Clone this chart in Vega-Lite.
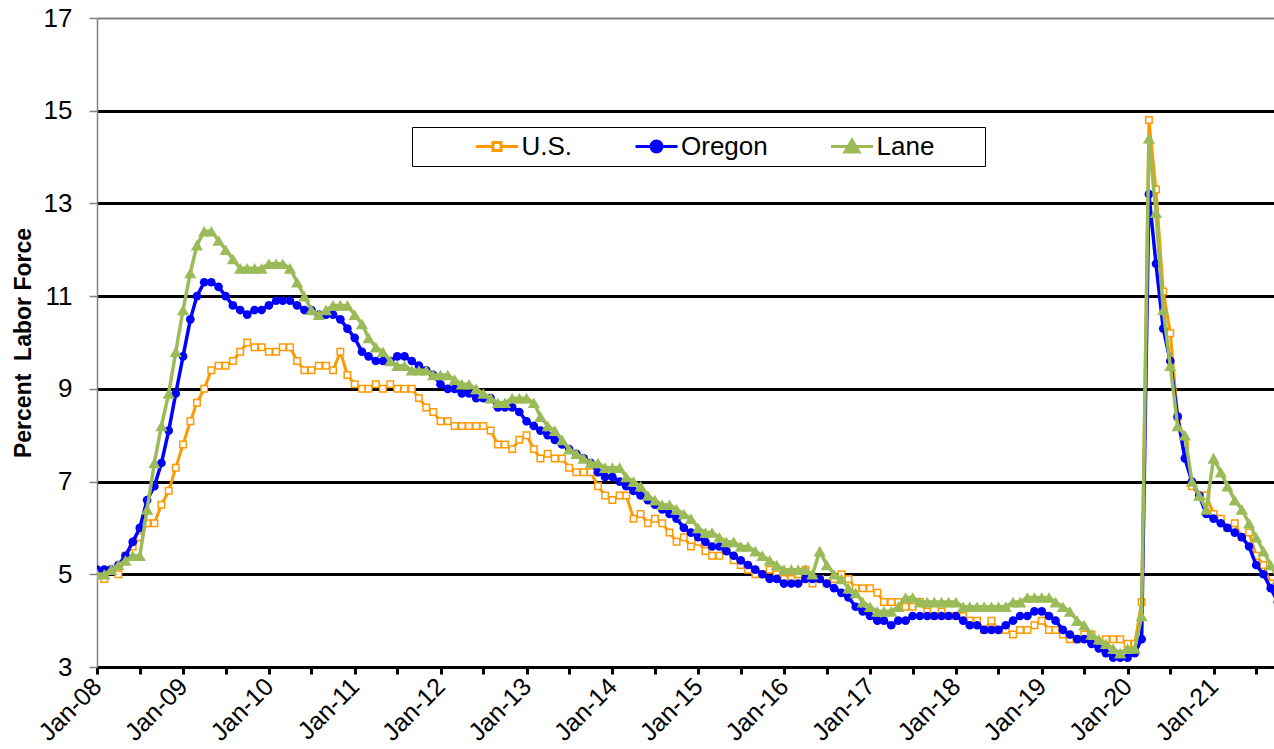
{
"$schema": "https://vega.github.io/schema/vega-lite/v6.json",
"width": 1177, "height": 649,
"autosize": {"type": "none"},
"padding": {"left": 97, "top": 18, "right": 0, "bottom": 82},
"background": "white",
"config": {"view": {"stroke": null}, "font": "Liberation Sans"},
"data": {"values": [
{"m":"2008-01","s":"U.S.","v":5.0},{"m":"2008-02","s":"U.S.","v":4.9},{"m":"2008-03","s":"U.S.","v":5.1},{"m":"2008-04","s":"U.S.","v":5.0},{"m":"2008-05","s":"U.S.","v":5.4},{"m":"2008-06","s":"U.S.","v":5.6},{"m":"2008-07","s":"U.S.","v":5.8},{"m":"2008-08","s":"U.S.","v":6.1},{"m":"2008-09","s":"U.S.","v":6.1},{"m":"2008-10","s":"U.S.","v":6.5},{"m":"2008-11","s":"U.S.","v":6.8},{"m":"2008-12","s":"U.S.","v":7.3},
{"m":"2009-01","s":"U.S.","v":7.8},{"m":"2009-02","s":"U.S.","v":8.3},{"m":"2009-03","s":"U.S.","v":8.7},{"m":"2009-04","s":"U.S.","v":9.0},{"m":"2009-05","s":"U.S.","v":9.4},{"m":"2009-06","s":"U.S.","v":9.5},{"m":"2009-07","s":"U.S.","v":9.5},{"m":"2009-08","s":"U.S.","v":9.6},{"m":"2009-09","s":"U.S.","v":9.8},{"m":"2009-10","s":"U.S.","v":10.0},{"m":"2009-11","s":"U.S.","v":9.9},{"m":"2009-12","s":"U.S.","v":9.9},
{"m":"2010-01","s":"U.S.","v":9.8},{"m":"2010-02","s":"U.S.","v":9.8},{"m":"2010-03","s":"U.S.","v":9.9},{"m":"2010-04","s":"U.S.","v":9.9},{"m":"2010-05","s":"U.S.","v":9.6},{"m":"2010-06","s":"U.S.","v":9.4},{"m":"2010-07","s":"U.S.","v":9.4},{"m":"2010-08","s":"U.S.","v":9.5},{"m":"2010-09","s":"U.S.","v":9.5},{"m":"2010-10","s":"U.S.","v":9.4},{"m":"2010-11","s":"U.S.","v":9.8},{"m":"2010-12","s":"U.S.","v":9.3},
{"m":"2011-01","s":"U.S.","v":9.1},{"m":"2011-02","s":"U.S.","v":9.0},{"m":"2011-03","s":"U.S.","v":9.0},{"m":"2011-04","s":"U.S.","v":9.1},{"m":"2011-05","s":"U.S.","v":9.0},{"m":"2011-06","s":"U.S.","v":9.1},{"m":"2011-07","s":"U.S.","v":9.0},{"m":"2011-08","s":"U.S.","v":9.0},{"m":"2011-09","s":"U.S.","v":9.0},{"m":"2011-10","s":"U.S.","v":8.8},{"m":"2011-11","s":"U.S.","v":8.6},{"m":"2011-12","s":"U.S.","v":8.5},
{"m":"2012-01","s":"U.S.","v":8.3},{"m":"2012-02","s":"U.S.","v":8.3},{"m":"2012-03","s":"U.S.","v":8.2},{"m":"2012-04","s":"U.S.","v":8.2},{"m":"2012-05","s":"U.S.","v":8.2},{"m":"2012-06","s":"U.S.","v":8.2},{"m":"2012-07","s":"U.S.","v":8.2},{"m":"2012-08","s":"U.S.","v":8.1},{"m":"2012-09","s":"U.S.","v":7.8},{"m":"2012-10","s":"U.S.","v":7.8},{"m":"2012-11","s":"U.S.","v":7.7},{"m":"2012-12","s":"U.S.","v":7.9},
{"m":"2013-01","s":"U.S.","v":8.0},{"m":"2013-02","s":"U.S.","v":7.7},{"m":"2013-03","s":"U.S.","v":7.5},{"m":"2013-04","s":"U.S.","v":7.6},{"m":"2013-05","s":"U.S.","v":7.5},{"m":"2013-06","s":"U.S.","v":7.5},{"m":"2013-07","s":"U.S.","v":7.3},{"m":"2013-08","s":"U.S.","v":7.2},{"m":"2013-09","s":"U.S.","v":7.2},{"m":"2013-10","s":"U.S.","v":7.2},{"m":"2013-11","s":"U.S.","v":6.9},{"m":"2013-12","s":"U.S.","v":6.7},
{"m":"2014-01","s":"U.S.","v":6.6},{"m":"2014-02","s":"U.S.","v":6.7},{"m":"2014-03","s":"U.S.","v":6.7},{"m":"2014-04","s":"U.S.","v":6.2},{"m":"2014-05","s":"U.S.","v":6.3},{"m":"2014-06","s":"U.S.","v":6.1},{"m":"2014-07","s":"U.S.","v":6.2},{"m":"2014-08","s":"U.S.","v":6.1},{"m":"2014-09","s":"U.S.","v":5.9},{"m":"2014-10","s":"U.S.","v":5.7},{"m":"2014-11","s":"U.S.","v":5.8},{"m":"2014-12","s":"U.S.","v":5.6},
{"m":"2015-01","s":"U.S.","v":5.7},{"m":"2015-02","s":"U.S.","v":5.5},{"m":"2015-03","s":"U.S.","v":5.4},{"m":"2015-04","s":"U.S.","v":5.4},{"m":"2015-05","s":"U.S.","v":5.6},{"m":"2015-06","s":"U.S.","v":5.3},{"m":"2015-07","s":"U.S.","v":5.2},{"m":"2015-08","s":"U.S.","v":5.1},{"m":"2015-09","s":"U.S.","v":5.0},{"m":"2015-10","s":"U.S.","v":5.0},{"m":"2015-11","s":"U.S.","v":5.1},{"m":"2015-12","s":"U.S.","v":5.0},
{"m":"2016-01","s":"U.S.","v":4.9},{"m":"2016-02","s":"U.S.","v":4.9},{"m":"2016-03","s":"U.S.","v":5.0},{"m":"2016-04","s":"U.S.","v":5.1},{"m":"2016-05","s":"U.S.","v":4.8},{"m":"2016-06","s":"U.S.","v":4.9},{"m":"2016-07","s":"U.S.","v":4.8},{"m":"2016-08","s":"U.S.","v":4.9},{"m":"2016-09","s":"U.S.","v":5.0},{"m":"2016-10","s":"U.S.","v":4.9},{"m":"2016-11","s":"U.S.","v":4.7},{"m":"2016-12","s":"U.S.","v":4.7},
{"m":"2017-01","s":"U.S.","v":4.7},{"m":"2017-02","s":"U.S.","v":4.6},{"m":"2017-03","s":"U.S.","v":4.4},{"m":"2017-04","s":"U.S.","v":4.4},{"m":"2017-05","s":"U.S.","v":4.4},{"m":"2017-06","s":"U.S.","v":4.3},{"m":"2017-07","s":"U.S.","v":4.3},{"m":"2017-08","s":"U.S.","v":4.4},{"m":"2017-09","s":"U.S.","v":4.2},{"m":"2017-10","s":"U.S.","v":4.1},{"m":"2017-11","s":"U.S.","v":4.2},{"m":"2017-12","s":"U.S.","v":4.1},
{"m":"2018-01","s":"U.S.","v":4.1},{"m":"2018-02","s":"U.S.","v":4.1},{"m":"2018-03","s":"U.S.","v":4.0},{"m":"2018-04","s":"U.S.","v":4.0},{"m":"2018-05","s":"U.S.","v":3.8},{"m":"2018-06","s":"U.S.","v":4.0},{"m":"2018-07","s":"U.S.","v":3.8},{"m":"2018-08","s":"U.S.","v":3.8},{"m":"2018-09","s":"U.S.","v":3.7},{"m":"2018-10","s":"U.S.","v":3.8},{"m":"2018-11","s":"U.S.","v":3.8},{"m":"2018-12","s":"U.S.","v":3.9},
{"m":"2019-01","s":"U.S.","v":4.0},{"m":"2019-02","s":"U.S.","v":3.8},{"m":"2019-03","s":"U.S.","v":3.8},{"m":"2019-04","s":"U.S.","v":3.7},{"m":"2019-05","s":"U.S.","v":3.6},{"m":"2019-06","s":"U.S.","v":3.6},{"m":"2019-07","s":"U.S.","v":3.7},{"m":"2019-08","s":"U.S.","v":3.7},{"m":"2019-09","s":"U.S.","v":3.5},{"m":"2019-10","s":"U.S.","v":3.6},{"m":"2019-11","s":"U.S.","v":3.6},{"m":"2019-12","s":"U.S.","v":3.6},
{"m":"2020-01","s":"U.S.","v":3.5},{"m":"2020-02","s":"U.S.","v":3.5},{"m":"2020-03","s":"U.S.","v":4.4},{"m":"2020-04","s":"U.S.","v":14.8},{"m":"2020-05","s":"U.S.","v":13.3},{"m":"2020-06","s":"U.S.","v":11.1},{"m":"2020-07","s":"U.S.","v":10.2},{"m":"2020-08","s":"U.S.","v":8.4},{"m":"2020-09","s":"U.S.","v":7.8},{"m":"2020-10","s":"U.S.","v":6.9},{"m":"2020-11","s":"U.S.","v":6.7},{"m":"2020-12","s":"U.S.","v":6.7},
{"m":"2021-01","s":"U.S.","v":6.3},{"m":"2021-02","s":"U.S.","v":6.2},{"m":"2021-03","s":"U.S.","v":6.0},{"m":"2021-04","s":"U.S.","v":6.1},{"m":"2021-05","s":"U.S.","v":5.8},{"m":"2021-06","s":"U.S.","v":5.9},{"m":"2021-07","s":"U.S.","v":5.4},{"m":"2021-08","s":"U.S.","v":5.2},{"m":"2021-09","s":"U.S.","v":4.8},{"m":"2021-10","s":"U.S.","v":4.6},
{"m":"2008-01","s":"Oregon","v":5.1},{"m":"2008-02","s":"Oregon","v":5.1},{"m":"2008-03","s":"Oregon","v":5.1},{"m":"2008-04","s":"Oregon","v":5.2},{"m":"2008-05","s":"Oregon","v":5.4},{"m":"2008-06","s":"Oregon","v":5.7},{"m":"2008-07","s":"Oregon","v":6.0},{"m":"2008-08","s":"Oregon","v":6.6},{"m":"2008-09","s":"Oregon","v":6.9},{"m":"2008-10","s":"Oregon","v":7.4},{"m":"2008-11","s":"Oregon","v":8.1},{"m":"2008-12","s":"Oregon","v":8.9},
{"m":"2009-01","s":"Oregon","v":9.7},{"m":"2009-02","s":"Oregon","v":10.5},{"m":"2009-03","s":"Oregon","v":11.0},{"m":"2009-04","s":"Oregon","v":11.3},{"m":"2009-05","s":"Oregon","v":11.3},{"m":"2009-06","s":"Oregon","v":11.2},{"m":"2009-07","s":"Oregon","v":11.0},{"m":"2009-08","s":"Oregon","v":10.8},{"m":"2009-09","s":"Oregon","v":10.7},{"m":"2009-10","s":"Oregon","v":10.6},{"m":"2009-11","s":"Oregon","v":10.7},{"m":"2009-12","s":"Oregon","v":10.7},
{"m":"2010-01","s":"Oregon","v":10.8},{"m":"2010-02","s":"Oregon","v":10.9},{"m":"2010-03","s":"Oregon","v":10.9},{"m":"2010-04","s":"Oregon","v":10.9},{"m":"2010-05","s":"Oregon","v":10.8},{"m":"2010-06","s":"Oregon","v":10.7},{"m":"2010-07","s":"Oregon","v":10.7},{"m":"2010-08","s":"Oregon","v":10.6},{"m":"2010-09","s":"Oregon","v":10.6},{"m":"2010-10","s":"Oregon","v":10.6},{"m":"2010-11","s":"Oregon","v":10.5},{"m":"2010-12","s":"Oregon","v":10.3},
{"m":"2011-01","s":"Oregon","v":10.1},{"m":"2011-02","s":"Oregon","v":9.8},{"m":"2011-03","s":"Oregon","v":9.7},{"m":"2011-04","s":"Oregon","v":9.6},{"m":"2011-05","s":"Oregon","v":9.6},{"m":"2011-06","s":"Oregon","v":9.6},{"m":"2011-07","s":"Oregon","v":9.7},{"m":"2011-08","s":"Oregon","v":9.7},{"m":"2011-09","s":"Oregon","v":9.6},{"m":"2011-10","s":"Oregon","v":9.5},{"m":"2011-11","s":"Oregon","v":9.4},{"m":"2011-12","s":"Oregon","v":9.3},
{"m":"2012-01","s":"Oregon","v":9.1},{"m":"2012-02","s":"Oregon","v":9.0},{"m":"2012-03","s":"Oregon","v":9.0},{"m":"2012-04","s":"Oregon","v":8.9},{"m":"2012-05","s":"Oregon","v":8.9},{"m":"2012-06","s":"Oregon","v":8.8},{"m":"2012-07","s":"Oregon","v":8.8},{"m":"2012-08","s":"Oregon","v":8.8},{"m":"2012-09","s":"Oregon","v":8.6},{"m":"2012-10","s":"Oregon","v":8.6},{"m":"2012-11","s":"Oregon","v":8.6},{"m":"2012-12","s":"Oregon","v":8.5},
{"m":"2013-01","s":"Oregon","v":8.3},{"m":"2013-02","s":"Oregon","v":8.2},{"m":"2013-03","s":"Oregon","v":8.1},{"m":"2013-04","s":"Oregon","v":8.0},{"m":"2013-05","s":"Oregon","v":7.9},{"m":"2013-06","s":"Oregon","v":7.8},{"m":"2013-07","s":"Oregon","v":7.7},{"m":"2013-08","s":"Oregon","v":7.6},{"m":"2013-09","s":"Oregon","v":7.5},{"m":"2013-10","s":"Oregon","v":7.4},{"m":"2013-11","s":"Oregon","v":7.2},{"m":"2013-12","s":"Oregon","v":7.1},
{"m":"2014-01","s":"Oregon","v":7.1},{"m":"2014-02","s":"Oregon","v":7.0},{"m":"2014-03","s":"Oregon","v":6.9},{"m":"2014-04","s":"Oregon","v":6.8},{"m":"2014-05","s":"Oregon","v":6.7},{"m":"2014-06","s":"Oregon","v":6.6},{"m":"2014-07","s":"Oregon","v":6.5},{"m":"2014-08","s":"Oregon","v":6.4},{"m":"2014-09","s":"Oregon","v":6.3},{"m":"2014-10","s":"Oregon","v":6.2},{"m":"2014-11","s":"Oregon","v":6.0},{"m":"2014-12","s":"Oregon","v":5.9},
{"m":"2015-01","s":"Oregon","v":5.8},{"m":"2015-02","s":"Oregon","v":5.7},{"m":"2015-03","s":"Oregon","v":5.6},{"m":"2015-04","s":"Oregon","v":5.6},{"m":"2015-05","s":"Oregon","v":5.5},{"m":"2015-06","s":"Oregon","v":5.4},{"m":"2015-07","s":"Oregon","v":5.3},{"m":"2015-08","s":"Oregon","v":5.2},{"m":"2015-09","s":"Oregon","v":5.1},{"m":"2015-10","s":"Oregon","v":5.0},{"m":"2015-11","s":"Oregon","v":4.9},{"m":"2015-12","s":"Oregon","v":4.9},
{"m":"2016-01","s":"Oregon","v":4.8},{"m":"2016-02","s":"Oregon","v":4.8},{"m":"2016-03","s":"Oregon","v":4.8},{"m":"2016-04","s":"Oregon","v":4.9},{"m":"2016-05","s":"Oregon","v":4.9},{"m":"2016-06","s":"Oregon","v":4.9},{"m":"2016-07","s":"Oregon","v":4.8},{"m":"2016-08","s":"Oregon","v":4.7},{"m":"2016-09","s":"Oregon","v":4.6},{"m":"2016-10","s":"Oregon","v":4.5},{"m":"2016-11","s":"Oregon","v":4.3},{"m":"2016-12","s":"Oregon","v":4.2},
{"m":"2017-01","s":"Oregon","v":4.1},{"m":"2017-02","s":"Oregon","v":4.0},{"m":"2017-03","s":"Oregon","v":4.0},{"m":"2017-04","s":"Oregon","v":3.9},{"m":"2017-05","s":"Oregon","v":4.0},{"m":"2017-06","s":"Oregon","v":4.0},{"m":"2017-07","s":"Oregon","v":4.1},{"m":"2017-08","s":"Oregon","v":4.1},{"m":"2017-09","s":"Oregon","v":4.1},{"m":"2017-10","s":"Oregon","v":4.1},{"m":"2017-11","s":"Oregon","v":4.1},{"m":"2017-12","s":"Oregon","v":4.1},
{"m":"2018-01","s":"Oregon","v":4.1},{"m":"2018-02","s":"Oregon","v":4.0},{"m":"2018-03","s":"Oregon","v":3.9},{"m":"2018-04","s":"Oregon","v":3.9},{"m":"2018-05","s":"Oregon","v":3.8},{"m":"2018-06","s":"Oregon","v":3.8},{"m":"2018-07","s":"Oregon","v":3.8},{"m":"2018-08","s":"Oregon","v":3.9},{"m":"2018-09","s":"Oregon","v":4.0},{"m":"2018-10","s":"Oregon","v":4.1},{"m":"2018-11","s":"Oregon","v":4.1},{"m":"2018-12","s":"Oregon","v":4.2},
{"m":"2019-01","s":"Oregon","v":4.2},{"m":"2019-02","s":"Oregon","v":4.1},{"m":"2019-03","s":"Oregon","v":4.0},{"m":"2019-04","s":"Oregon","v":3.8},{"m":"2019-05","s":"Oregon","v":3.7},{"m":"2019-06","s":"Oregon","v":3.6},{"m":"2019-07","s":"Oregon","v":3.6},{"m":"2019-08","s":"Oregon","v":3.5},{"m":"2019-09","s":"Oregon","v":3.4},{"m":"2019-10","s":"Oregon","v":3.3},{"m":"2019-11","s":"Oregon","v":3.2},{"m":"2019-12","s":"Oregon","v":3.2},
{"m":"2020-01","s":"Oregon","v":3.2},{"m":"2020-02","s":"Oregon","v":3.3},{"m":"2020-03","s":"Oregon","v":3.6},{"m":"2020-04","s":"Oregon","v":13.2},{"m":"2020-05","s":"Oregon","v":11.7},{"m":"2020-06","s":"Oregon","v":10.3},{"m":"2020-07","s":"Oregon","v":9.6},{"m":"2020-08","s":"Oregon","v":8.4},{"m":"2020-09","s":"Oregon","v":7.5},{"m":"2020-10","s":"Oregon","v":7.0},{"m":"2020-11","s":"Oregon","v":6.7},{"m":"2020-12","s":"Oregon","v":6.3},
{"m":"2021-01","s":"Oregon","v":6.2},{"m":"2021-02","s":"Oregon","v":6.1},{"m":"2021-03","s":"Oregon","v":6.0},{"m":"2021-04","s":"Oregon","v":5.9},{"m":"2021-05","s":"Oregon","v":5.8},{"m":"2021-06","s":"Oregon","v":5.6},{"m":"2021-07","s":"Oregon","v":5.2},{"m":"2021-08","s":"Oregon","v":5.0},{"m":"2021-09","s":"Oregon","v":4.7},{"m":"2021-10","s":"Oregon","v":4.4},
{"m":"2008-01","s":"Lane","v":5.0},{"m":"2008-02","s":"Lane","v":5.0},{"m":"2008-03","s":"Lane","v":5.1},{"m":"2008-04","s":"Lane","v":5.2},{"m":"2008-05","s":"Lane","v":5.3},{"m":"2008-06","s":"Lane","v":5.4},{"m":"2008-07","s":"Lane","v":5.4},{"m":"2008-08","s":"Lane","v":6.4},{"m":"2008-09","s":"Lane","v":7.4},{"m":"2008-10","s":"Lane","v":8.2},{"m":"2008-11","s":"Lane","v":8.9},{"m":"2008-12","s":"Lane","v":9.8},
{"m":"2009-01","s":"Lane","v":10.7},{"m":"2009-02","s":"Lane","v":11.5},{"m":"2009-03","s":"Lane","v":12.1},{"m":"2009-04","s":"Lane","v":12.4},{"m":"2009-05","s":"Lane","v":12.4},{"m":"2009-06","s":"Lane","v":12.2},{"m":"2009-07","s":"Lane","v":12.0},{"m":"2009-08","s":"Lane","v":11.8},{"m":"2009-09","s":"Lane","v":11.6},{"m":"2009-10","s":"Lane","v":11.6},{"m":"2009-11","s":"Lane","v":11.6},{"m":"2009-12","s":"Lane","v":11.6},
{"m":"2010-01","s":"Lane","v":11.7},{"m":"2010-02","s":"Lane","v":11.7},{"m":"2010-03","s":"Lane","v":11.7},{"m":"2010-04","s":"Lane","v":11.6},{"m":"2010-05","s":"Lane","v":11.3},{"m":"2010-06","s":"Lane","v":11.0},{"m":"2010-07","s":"Lane","v":10.7},{"m":"2010-08","s":"Lane","v":10.6},{"m":"2010-09","s":"Lane","v":10.7},{"m":"2010-10","s":"Lane","v":10.8},{"m":"2010-11","s":"Lane","v":10.8},{"m":"2010-12","s":"Lane","v":10.8},
{"m":"2011-01","s":"Lane","v":10.6},{"m":"2011-02","s":"Lane","v":10.4},{"m":"2011-03","s":"Lane","v":10.1},{"m":"2011-04","s":"Lane","v":9.9},{"m":"2011-05","s":"Lane","v":9.8},{"m":"2011-06","s":"Lane","v":9.6},{"m":"2011-07","s":"Lane","v":9.5},{"m":"2011-08","s":"Lane","v":9.5},{"m":"2011-09","s":"Lane","v":9.4},{"m":"2011-10","s":"Lane","v":9.4},{"m":"2011-11","s":"Lane","v":9.4},{"m":"2011-12","s":"Lane","v":9.3},
{"m":"2012-01","s":"Lane","v":9.3},{"m":"2012-02","s":"Lane","v":9.3},{"m":"2012-03","s":"Lane","v":9.2},{"m":"2012-04","s":"Lane","v":9.1},{"m":"2012-05","s":"Lane","v":9.1},{"m":"2012-06","s":"Lane","v":9.0},{"m":"2012-07","s":"Lane","v":8.9},{"m":"2012-08","s":"Lane","v":8.8},{"m":"2012-09","s":"Lane","v":8.7},{"m":"2012-10","s":"Lane","v":8.7},{"m":"2012-11","s":"Lane","v":8.8},{"m":"2012-12","s":"Lane","v":8.8},
{"m":"2013-01","s":"Lane","v":8.8},{"m":"2013-02","s":"Lane","v":8.7},{"m":"2013-03","s":"Lane","v":8.4},{"m":"2013-04","s":"Lane","v":8.2},{"m":"2013-05","s":"Lane","v":8.1},{"m":"2013-06","s":"Lane","v":7.9},{"m":"2013-07","s":"Lane","v":7.7},{"m":"2013-08","s":"Lane","v":7.6},{"m":"2013-09","s":"Lane","v":7.5},{"m":"2013-10","s":"Lane","v":7.4},{"m":"2013-11","s":"Lane","v":7.4},{"m":"2013-12","s":"Lane","v":7.3},
{"m":"2014-01","s":"Lane","v":7.3},{"m":"2014-02","s":"Lane","v":7.3},{"m":"2014-03","s":"Lane","v":7.1},{"m":"2014-04","s":"Lane","v":7.0},{"m":"2014-05","s":"Lane","v":6.9},{"m":"2014-06","s":"Lane","v":6.7},{"m":"2014-07","s":"Lane","v":6.6},{"m":"2014-08","s":"Lane","v":6.5},{"m":"2014-09","s":"Lane","v":6.5},{"m":"2014-10","s":"Lane","v":6.4},{"m":"2014-11","s":"Lane","v":6.3},{"m":"2014-12","s":"Lane","v":6.2},
{"m":"2015-01","s":"Lane","v":6.0},{"m":"2015-02","s":"Lane","v":5.9},{"m":"2015-03","s":"Lane","v":5.9},{"m":"2015-04","s":"Lane","v":5.8},{"m":"2015-05","s":"Lane","v":5.7},{"m":"2015-06","s":"Lane","v":5.7},{"m":"2015-07","s":"Lane","v":5.6},{"m":"2015-08","s":"Lane","v":5.6},{"m":"2015-09","s":"Lane","v":5.5},{"m":"2015-10","s":"Lane","v":5.4},{"m":"2015-11","s":"Lane","v":5.3},{"m":"2015-12","s":"Lane","v":5.2},
{"m":"2016-01","s":"Lane","v":5.1},{"m":"2016-02","s":"Lane","v":5.1},{"m":"2016-03","s":"Lane","v":5.1},{"m":"2016-04","s":"Lane","v":5.1},{"m":"2016-05","s":"Lane","v":5.0},{"m":"2016-06","s":"Lane","v":5.5},{"m":"2016-07","s":"Lane","v":5.2},{"m":"2016-08","s":"Lane","v":5.0},{"m":"2016-09","s":"Lane","v":4.9},{"m":"2016-10","s":"Lane","v":4.7},{"m":"2016-11","s":"Lane","v":4.6},{"m":"2016-12","s":"Lane","v":4.4},
{"m":"2017-01","s":"Lane","v":4.3},{"m":"2017-02","s":"Lane","v":4.2},{"m":"2017-03","s":"Lane","v":4.2},{"m":"2017-04","s":"Lane","v":4.2},{"m":"2017-05","s":"Lane","v":4.3},{"m":"2017-06","s":"Lane","v":4.5},{"m":"2017-07","s":"Lane","v":4.5},{"m":"2017-08","s":"Lane","v":4.4},{"m":"2017-09","s":"Lane","v":4.4},{"m":"2017-10","s":"Lane","v":4.4},{"m":"2017-11","s":"Lane","v":4.4},{"m":"2017-12","s":"Lane","v":4.4},
{"m":"2018-01","s":"Lane","v":4.4},{"m":"2018-02","s":"Lane","v":4.3},{"m":"2018-03","s":"Lane","v":4.3},{"m":"2018-04","s":"Lane","v":4.3},{"m":"2018-05","s":"Lane","v":4.3},{"m":"2018-06","s":"Lane","v":4.3},{"m":"2018-07","s":"Lane","v":4.3},{"m":"2018-08","s":"Lane","v":4.3},{"m":"2018-09","s":"Lane","v":4.4},{"m":"2018-10","s":"Lane","v":4.4},{"m":"2018-11","s":"Lane","v":4.5},{"m":"2018-12","s":"Lane","v":4.5},
{"m":"2019-01","s":"Lane","v":4.5},{"m":"2019-02","s":"Lane","v":4.5},{"m":"2019-03","s":"Lane","v":4.4},{"m":"2019-04","s":"Lane","v":4.3},{"m":"2019-05","s":"Lane","v":4.2},{"m":"2019-06","s":"Lane","v":4.0},{"m":"2019-07","s":"Lane","v":3.9},{"m":"2019-08","s":"Lane","v":3.7},{"m":"2019-09","s":"Lane","v":3.6},{"m":"2019-10","s":"Lane","v":3.5},{"m":"2019-11","s":"Lane","v":3.4},{"m":"2019-12","s":"Lane","v":3.3},
{"m":"2020-01","s":"Lane","v":3.4},{"m":"2020-02","s":"Lane","v":3.4},{"m":"2020-03","s":"Lane","v":4.1},{"m":"2020-04","s":"Lane","v":14.4},{"m":"2020-05","s":"Lane","v":12.8},{"m":"2020-06","s":"Lane","v":10.7},{"m":"2020-07","s":"Lane","v":9.5},{"m":"2020-08","s":"Lane","v":8.2},{"m":"2020-09","s":"Lane","v":8.0},{"m":"2020-10","s":"Lane","v":7.0},{"m":"2020-11","s":"Lane","v":6.7},{"m":"2020-12","s":"Lane","v":6.4},
{"m":"2021-01","s":"Lane","v":7.5},{"m":"2021-02","s":"Lane","v":7.2},{"m":"2021-03","s":"Lane","v":6.9},{"m":"2021-04","s":"Lane","v":6.6},{"m":"2021-05","s":"Lane","v":6.4},{"m":"2021-06","s":"Lane","v":6.1},{"m":"2021-07","s":"Lane","v":5.8},{"m":"2021-08","s":"Lane","v":5.5},{"m":"2021-09","s":"Lane","v":5.2},{"m":"2021-10","s":"Lane","v":4.9}
]},
"encoding": {
  "x": {"field": "m", "type": "temporal",
    "scale": {"type": "utc", "nice": false, "domain": [{"year": 2008, "month": 1, "date": 1, "utc": true}, {"year": 2021, "month": 9, "date": 15, "utc": true}]},
    "axis": {"title": null, "tickCount": {"interval": "month", "step": 6},
      "labelExpr": "utcmonth(datum.value) == 0 ? utcFormat(datum.value, '%b-%y') : ''",
      "labelAngle": -45, "labelAlign": "right", "labelBaseline": "middle",
      "labelFont": "Liberation Sans", "labelFontSize": 25, "labelColor": "black", "labelPadding": 8,
      "labelOverlap": false, "labelBound": false, "labelFlush": false,
      "tickColor": "black", "tickWidth": 3, "tickSize": 7,
      "domainColor": "black", "domainWidth": 3, "grid": false}},
  "y": {"field": "v", "type": "quantitative",
    "scale": {"domain": [3, 17], "nice": false, "zero": false},
    "axis": {"title": "Percent \u00a0Labor Force", "titleFont": "Liberation Sans", "titleFontSize": 23, "titleFontWeight": "bold", "titleColor": "black", "titlePadding": 8,
      "values": [3, 5, 7, 9, 11, 13, 15, 17],
      "labelFont": "Liberation Sans", "labelFontSize": 26, "labelColor": "black", "labelPadding": 17,
      "labelBound": false, "labelFlush": false,
      "tickColor": "#808080", "tickSize": 8, "tickWidth": 1.5,
      "domainColor": "#808080", "domainWidth": 1.5,
      "grid": true, "gridOpacity": 1,
      "gridColor": {"condition": {"test": "datum.value == 17", "value": "#808080"}, "value": "black"},
      "gridWidth": {"condition": {"test": "datum.value == 17", "value": 2}, "value": 3}}}
},
"layer": [
  {"transform": [{"filter": "datum.s == 'U.S.'"}], "mark": {"type": "line", "color": "#FF9900", "strokeWidth": 3, "clip": true}},
  {"transform": [{"filter": "datum.s == 'U.S.'"}], "mark": {"type": "point", "shape": "square", "size": 42, "filled": true, "fill": "white", "stroke": "#FF9900", "strokeWidth": 1.5, "opacity": 1, "clip": true}},
  {"transform": [{"filter": "datum.s == 'Oregon'"}], "mark": {"type": "line", "color": "#0000FF", "strokeWidth": 3.5, "clip": true}},
  {"transform": [{"filter": "datum.s == 'Oregon'"}], "mark": {"type": "point", "shape": "circle", "size": 75, "filled": true, "color": "#0000FF", "opacity": 1, "clip": true}},
  {"transform": [{"filter": "datum.s == 'Lane'"}], "mark": {"type": "line", "color": "#9BBB59", "strokeWidth": 3.5, "clip": true}},
  {"transform": [{"filter": "datum.s == 'Lane'"}], "mark": {"type": "point", "shape": "triangle-up", "size": 150, "filled": true, "color": "#9BBB59", "opacity": 1, "clip": true}},
  {"transform": [{"filter": "datum.v > 100"}],
   "mark": {"type": "point", "filled": true, "strokeWidth": 3, "opacity": 1},
   "encoding": {
     "fill": {"field": "s", "type": "nominal", "scale": {"domain": ["U.S.", "Oregon", "Lane"], "range": ["white", "#0000FF", "#9BBB59"]},
       "legend": {"title": null, "orient": "none", "legendX": 315, "legendY": 109, "direction": "horizontal", "padding": 6.5, "strokeColor": "black",
         "clipHeight": 26, "symbolSize": 9604, "symbolStrokeWidth": 3, "labelFont": "Liberation Sans", "labelFontSize": 26, "labelColor": "black", "labelOffset": 2,
         "columnPadding": 5.5, "labelLimit": 400, "labelExpr": "datum.label == 'Lane' ? 'Lane      \u200b' : datum.label",
         "encode": {"legend": {"update": {"strokeWidth": {"value": 1.5}}}}}},
     "stroke": {"field": "s", "type": "nominal", "scale": {"domain": ["U.S.", "Oregon", "Lane"], "range": ["#FF9900", "#0000FF", "#9BBB59"]}},
     "shape": {"field": "s", "type": "nominal", "scale": {"domain": ["U.S.", "Oregon", "Lane"], "range": [
       "M-1,0 M0.143,0H0.489 M0.653,0H1 M0.489,-0.082H0.653V0.082H0.489Z",
       "M-1,0 M0.143,0H1 M0.683,0A0.112,0.112 0 1,1 0.459,0A0.112,0.112 0 1,1 0.683,0Z",
       "M-1,0 M0.143,0H1 M0.571,-0.133L0.714,0.112L0.428,0.112Z"]}}
   }}
]
}
